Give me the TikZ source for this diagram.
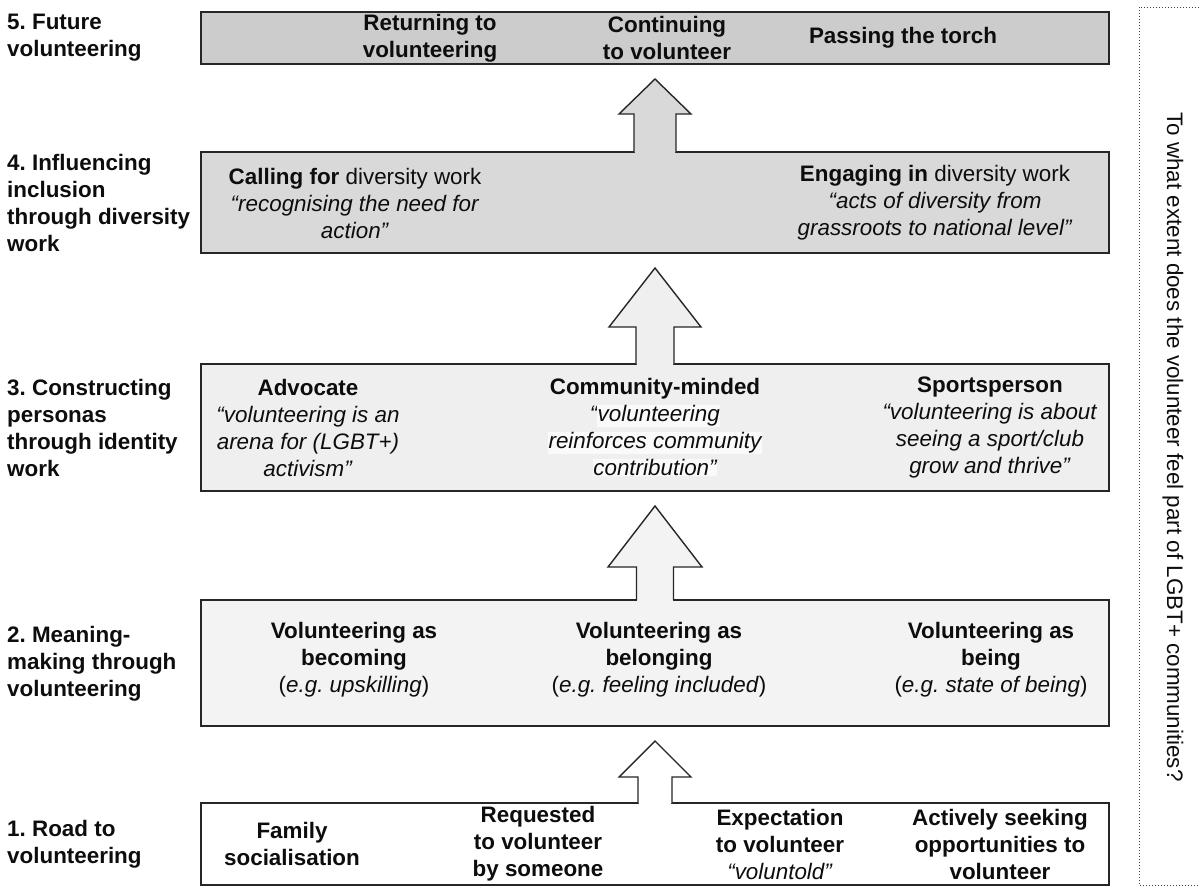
\documentclass[tikz,border=0pt]{standalone}
\usepackage{fontspec}
\setmainfont{Liberation Sans}
\usepackage{xcolor}
\usetikzlibrary{calc}
\definecolor{lvlfive}{HTML}{CCCCCC}
\definecolor{lvlfour}{HTML}{D9D9D9}
\definecolor{lvlthree}{HTML}{EFEFEF}
\definecolor{lvltwo}{HTML}{F3F3F3}
\definecolor{hilite}{HTML}{FAFAFA}
\definecolor{edge}{HTML}{262626}
\frenchspacing
\newcommand{\sz}{\fontsize{22.4}{27}\selectfont}
\newcommand{\hlite}[1]{{\setlength{\fboxsep}{0.5pt}\colorbox{hilite}{#1}}}
\tikzset{
  level/.style={draw=edge, line width=1.4pt, minimum width=908pt, inner sep=0pt, outer sep=0pt},
  txt/.style={align=center, inner sep=0pt, text=black!95, font=\sz},
  bold/.style={txt, font=\sz\bfseries},
  lbl/.style={align=left, anchor=west, inner sep=0pt, text=black!95, font=\sz\bfseries},
}

\begin{document}
\begin{tikzpicture}[x=1pt, y=-1pt]
\useasboundingbox (0,0) rectangle (1199,886);
%%%%% Levels %%%%%
\node[level, fill=lvlfive, minimum height=52pt] (L5) at (655,38) {};
\node[level, fill=lvlfour, minimum height=101pt] (L4) at (655,202.5) {};
\node[level, fill=lvlthree, minimum height=127pt] (L3) at (655,427.5) {};
\node[level, fill=lvltwo, minimum height=126pt] (L2) at (655,663) {};
\node[level, fill=white, minimum height=82pt] (L1) at (655,844) {};
%%%%% Arrows %%%%%
\foreach \lo/\up/\headlen/\hw/\sw/\col in {L1/L2/36/36/17/white, L2/L3/61/47/18.5/lvltwo, L3/L4/59/46/19/lvlthree, L4/L5/35/36/21/lvlfour}{
\coordinate (tip) at ($(\up.south)+(0,15)$);
\fill[\col] ($(\lo.north)+(-\sw+0.7,-1.5)$) rectangle ($(\lo.north)+(\sw-0.7,1.5)$);
\filldraw[fill=\col, draw=edge, line width=1.4pt] ($(\lo.north)+(-\sw,0)$) -- ($(tip)+(-\sw,\headlen)$) -- ($(tip)+(-\hw,\headlen)$) -- (tip) -- ($(tip)+(\hw,\headlen)$) -- ($(tip)+(\sw,\headlen)$) -- ($(\lo.north)+(\sw,0)$);
}
%%%%% Labels %%%%%
\node[lbl] (lab5) at (7,38) {5. Future\\volunteering};
\node[lbl] (lab4) at (7,203) {4. Influencing\\inclusion\\through diversity\\work};
\node[lbl] (lab3) at (7,427.5) {3. Constructing\\personas\\through identity\\work};
\node[lbl] (lab2) at (7,664) {2. Meaning-\\making through\\volunteering};
\node[lbl] (lab1) at (7,844) {1. Road to\\volunteering};
%%%%% Level 5 %%%%%
\node[bold] (ret) at (430,38) {Returning to\\volunteering};
\node[bold] (cont) at (667,38) {Continuing\\to volunteer};
\node[bold] (torch) at (903,38) {Passing the torch};
%%%%% Level 4 %%%%%
\node[txt] (call) at (355,203) {\textbf{Calling for} diversity work\\\textit{“recognising the need for}\\\textit{action”}};
\node[txt] (engage) at (935,203) {\textbf{Engaging in} diversity work\\\textit{“acts of diversity from}\\\textit{grassroots to national level”}};
%%%%% Level 3 %%%%%
\node[txt] (advo) at (308,427.5) {\textbf{Advocate}\\\textit{“volunteering is an}\\\textit{arena for (LGBT+)}\\\textit{activism”}};
\node[txt] (comm) at (655,427.5) {\textbf{Community-minded}\\\textit{“\hlite{volunteering}}\\\textit{\hlite{reinforces community}}\\\textit{\hlite{contribution”}}};
\node[txt] (sport) at (990,427.5) {\textbf{Sportsperson}\\\textit{“volunteering is about}\\\textit{seeing a sport/club}\\\textit{grow and thrive”}};
%%%%% Level 2 %%%%%
\node[txt] (become) at (354,660) {\textbf{Volunteering as}\\\textbf{becoming}\\(\textit{e.g. upskilling})};
\node[txt] (belong) at (659,660) {\textbf{Volunteering as}\\\textbf{belonging}\\(\textit{e.g. feeling included})};
\node[txt] (being) at (991,660) {\textbf{Volunteering as}\\\textbf{being}\\(\textit{e.g. state of being})};
%%%%% Level 1 %%%%%
\node[bold] (family) at (292,844) {Family\\socialisation};
\node[bold] (request) at (538,844) {Requested\\to volunteer\\by someone};
\node[txt] (expect) at (780,844) {\textbf{Expectation}\\\textbf{to volunteer}\\\textit{“voluntold”}};
\node[bold] (seek) at (1000,844) {Actively seeking\\opportunities to\\volunteer};
%%%%% Question %%%%%
\draw[black!75, line width=1pt, dotted] (1139,7) rectangle (1215,885);
\node[txt, rotate=-90] (question) at (1173,447) {To what extent does the volunteer feel part of LGBT+ communities?};
\end{tikzpicture}
\end{document}
